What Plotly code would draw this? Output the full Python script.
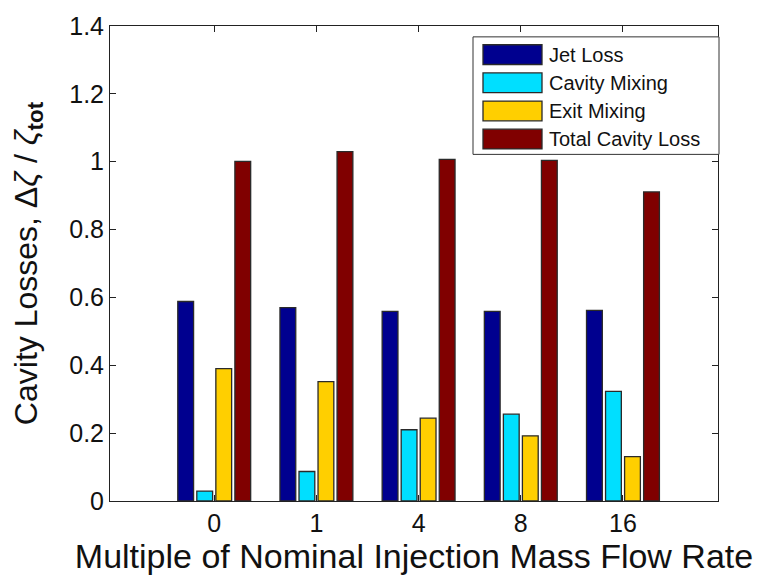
import plotly.graph_objects as go

# Injection mass-flow multiples (category labels) and their axis positions
categories = ["0", "1", "4", "8", "16"]
positions = [1, 2, 3, 4, 5]

# Normalised loss components for each injection multiple
jet_loss = [0.588, 0.570, 0.559, 0.559, 0.562]
cavity_mixing = [0.029, 0.087, 0.210, 0.256, 0.323]
exit_mixing = [0.390, 0.352, 0.244, 0.192, 0.131]
total_cavity_loss = [1.001, 1.030, 1.007, 1.004, 0.911]

series_names = ["Jet Loss", "Cavity Mixing", "Exit Mixing", "Total Cavity Loss"]
series_values = [jet_loss, cavity_mixing, exit_mixing, total_cavity_loss]
series_colors = ["#00008F", "#00DFFF", "#FFCF00", "#800000"]

font_family = "Liberation Sans, Arial, sans-serif"
edge_color = "#2a2a2a"

fig = go.Figure()
for name, values, color in zip(series_names, series_values, series_colors):
    fig.add_trace(go.Bar(
        x=positions,
        y=values,
        name=name,
        marker=dict(color=color, line=dict(color=edge_color, width=1.3)),
        showlegend=False,
    ))

# Boxed legend with wide colour swatches, drawn in paper coordinates
W, H = 764, 575
L, R, T, B = 110, 46, 21, 73
pw, ph = W - L - R, H - T - B


def px_x(x):
    return (x - L) / pw


def px_y(y):
    return 1 - (y - T) / ph


shapes = [dict(
    type="rect", xref="paper", yref="paper",
    x0=px_x(473), x1=px_x(719), y0=px_y(151), y1=px_y(32),
    fillcolor="white", line=dict(color="#333333", width=1), layer="above",
)]
annotations = []
row_centers = [50, 78.5, 107, 135.5]
for name, color, yc in zip(series_names, series_colors, row_centers):
    shapes.append(dict(
        type="rect", xref="paper", yref="paper",
        x0=px_x(483), x1=px_x(542), y0=px_y(yc + 10), y1=px_y(yc - 10),
        fillcolor=color, line=dict(color=edge_color, width=1.3), layer="above",
    ))
    annotations.append(dict(
        xref="paper", yref="paper", x=px_x(547), y=px_y(yc),
        xanchor="left", yanchor="middle", showarrow=False,
        text=name, font=dict(size=20, family=font_family, color="#111111"),
    ))

fig.update_layout(
    width=W,
    height=H,
    margin=dict(l=L, r=R, t=T, b=B),
    paper_bgcolor="white",
    plot_bgcolor="white",
    barmode="group",
    bargap=0.255,
    bargroupgap=0.17,
    font=dict(family=font_family, color="#111111", size=24),
    shapes=shapes,
    annotations=annotations,
    showlegend=False,
)

fig.update_xaxes(
    range=[-0.02, 5.93],
    tickvals=positions,
    ticktext=categories,
    ticks="inside",
    ticklen=6,
    tickcolor="#222222",
    showline=True,
    linecolor="#222222",
    linewidth=1,
    mirror="ticks",
    showgrid=False,
    zeroline=False,
    tickfont=dict(size=25),
    title=dict(text="Multiple of Nominal Injection Mass Flow Rate",
               font=dict(size=34), standoff=2),
)

fig.update_yaxes(
    range=[0, 1.4],
    tickvals=[0, 0.2, 0.4, 0.6, 0.8, 1.0, 1.2, 1.4],
    ticktext=["0", "0.2", "0.4", "0.6", "0.8", "1", "1.2", "1.4"],
    ticks="inside",
    ticklen=6,
    tickcolor="#222222",
    showline=True,
    linecolor="#222222",
    linewidth=1,
    mirror="ticks",
    showgrid=False,
    zeroline=False,
    tickfont=dict(size=25),
    title=dict(text="Cavity Losses, Δ<i>ζ</i> / <i>ζ</i><sub><b>tot</b></sub>",
               font=dict(size=32), standoff=22),
)

fig.write_html("out.html")
